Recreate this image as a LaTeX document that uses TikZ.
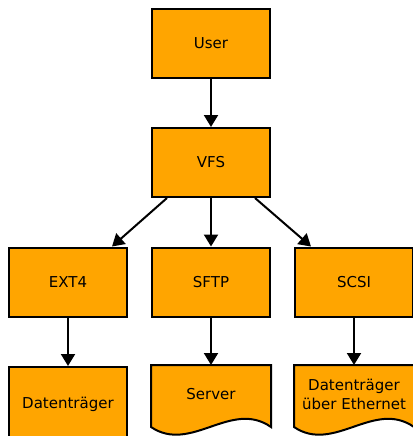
\documentclass[tikz,border=0pt]{standalone}
\usepackage{fontspec}
\setmainfont{DejaVu Sans}
\usetikzlibrary{arrows.meta,backgrounds}
\definecolor{boxorange}{RGB}{255,165,0}
\tikzset{
	box/.style={draw, line width=2pt, fill=boxorange, minimum width=118pt, minimum height=69pt,
		inner sep=0pt, align=center, font=\fontsize{15}{19}\selectfont},
	doc/.style={box, draw=none, fill=none, minimum height=56pt},
	docshape/.style={draw, line width=2pt, fill=boxorange},
	arr/.style={line width=2pt, -{Triangle[length=12pt,width=14pt]}}
}
\begin{document}
\begin{tikzpicture}
	\useasboundingbox (0pt,0pt) rectangle (412pt,-436pt);
	% top layer
	\node[box] (user) at (211pt,-43.5pt) {User};
	\node[box] (vfs) at (211pt,-162.5pt) {VFS};
	% file systems
	\node[box] (ext) at (68pt,-282pt) {EXT4};
	\node[box] (sftp) at (211pt,-282pt) {SFTP};
	\node[box] (scsi) at (354pt,-282pt) {SCSI};
	% storage
	\node[box, minimum height=74pt] (disk) at (68pt,-404pt) {Datenträger};
	\node[doc] (server) at (211pt,-394pt) {Server};
	\node[doc] (netdisk) at (354pt,-394pt) {Datenträger\\über Ethernet};
	\begin{scope}[on background layer]
		\foreach \d in {server,netdisk}
			\draw[docshape] (\d.north west) -- ([yshift=-62pt]\d.north west)
				.. controls +(40pt,-27pt) and +(-40pt,28pt) .. ([yshift=-62pt]\d.north east)
				-- (\d.north east) -- cycle;
	\end{scope}
	% connectors
	\draw[arr] (user) -- (vfs);
	\draw[arr] ([xshift=16pt]vfs.south west) -- ([xshift=-16pt]ext.north east);
	\draw[arr] (vfs) -- (sftp);
	\draw[arr] ([xshift=-16pt]vfs.south east) -- ([xshift=17pt]scsi.north west);
	\draw[arr] (ext) -- (disk);
	\draw[arr] (sftp) -- (server);
	\draw[arr] (scsi) -- (netdisk);
\end{tikzpicture}
\end{document}
